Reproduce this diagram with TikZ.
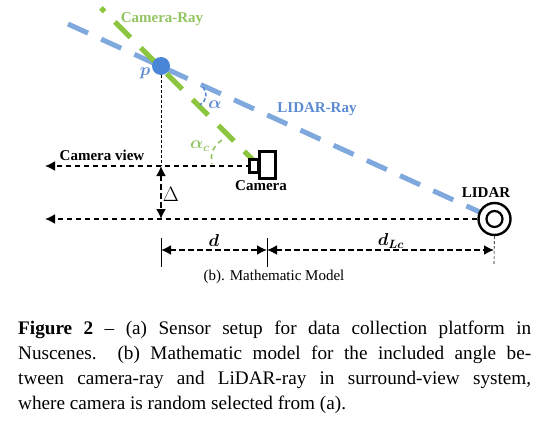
\documentclass[tikz,border=0pt]{standalone}
\usepackage{amsmath}
\usepackage{fontspec}
\setmainfont{Liberation Serif}
\usepackage{tikz}
\usetikzlibrary{calc}
\usetikzlibrary{arrows.meta}
\definecolor{rayblue}{HTML}{7FA8DC}
\definecolor{raygreen}{HTML}{8CC63F}
\definecolor{labgreen}{HTML}{93C462}
\definecolor{labblue}{HTML}{5B8BD0}
\definecolor{dotblue}{HTML}{4A86D8}
\tikzset{lidarray/.style={draw=rayblue, line width=5pt, dash pattern=on 22pt off 14.5pt}}
\tikzset{cameraray/.style={draw=raygreen, line width=5pt, dash pattern=on 22pt off 14.6pt}}
\tikzset{axisline/.style={draw, line width=1.8pt, dash pattern=on 5.5pt off 3.5pt, >={Latex[length=10pt,width=10pt]}}}
\tikzset{tick/.style={draw, line width=.6pt}}
\tikzset{lab/.style={font=\fontsize{15}{17}\selectfont\bfseries, inner sep=0pt}}

\begin{document}
\begin{tikzpicture}[x=1pt,y=-1pt]
    \useasboundingbox (0,0) rectangle (553,422);
    \foreach \x/\y/\nm in {
      68/24/lidarfar,
      101/8/camerafar,
      45/166/viewend,
      45/219/baseend,
      161/166/viewfoot,
      161/219/basefoot,
      161/250/dleft,
      267/250/dmid,
      494/250/dright,
      161/238/tickatop,
      161/267/tickabot,
      267/238/tickbtop,
      267/267/tickbbot,
      494/265/tickcbot%
    } {
      \coordinate (\nm) at (\x, \y);
    }
    % rays first, the sensors cover their ends
    \node[circle, minimum size=0pt, inner sep=0pt] (lidarc) at (495,219) {};
    \node[circle, minimum size=0pt, inner sep=0pt] (camc) at (260,167) {};
    \draw[lidarray] (lidarfar) -- (lidarc);
    \draw[cameraray] (camc) -- (camerafar);
    \node[circle, fill=dotblue, inner sep=0pt, minimum size=18pt] (p) at (161,66) {};
    \draw[line width=.7pt, densely dashed] (p) -- (viewfoot);
    \draw[axisline, ->] (251,166) -- (viewend);
    \draw[axisline, ->] (477,219) -- (baseend);
    \draw[axisline, <->] (viewfoot) -- (basefoot);
    \draw[axisline, <->] (dleft) -- (dmid);
    \draw[axisline, <->] (dmid) -- (dright);
    \draw[tick] (tickatop) -- (tickabot);
    \draw[tick] (tickbtop) -- (tickbbot);
    % sensors
    \node[circle, draw, fill=white, line width=2.4pt, inner sep=0pt, minimum size=32pt] (lidar) at (494.5,219) {};
    \node[circle, draw, line width=2.2pt, inner sep=0pt, minimum size=16pt] (lidarin) at (494.5,219) {};
    \node[draw, fill=white, line width=3pt, inner sep=0pt, minimum width=16pt, minimum height=27pt] (cambody) at (267.5,165) {};
    \node[draw, fill=white, line width=3pt, inner sep=0pt, minimum width=9pt, minimum height=13pt] (camlens) at (254,166) {};
    \draw[tick, densely dashed] (lidar) -- (tickcbot);
    % angles
    \draw[draw=labblue, line width=1.6pt, dash pattern=on 4pt off 2pt] (203,87) .. controls (208,95) and (206,101) .. (200,105);
    \draw[draw=labgreen, line width=1.6pt, dash pattern=on 5pt off 4pt] (222,140) .. controls (213,146) and (210,154) .. (212,164);
    % labels
    \foreach \x/\y/\nm/\tx in {
      102/155/viewlab/Camera view,
      261/186/camlab/Camera,
      486/193/lidarlab/LIDAR%
    } {
      \node[lab] (\nm) at (\x, \y) {\tx};
    }
    \node[lab, text=labgreen] (raygreenlab) at (162,19) {Camera-Ray};
    \node[lab, text=labblue] (raybluelab) at (317,109) {LIDAR-Ray};
    \node[lab, font=\fontsize{17}{17}\selectfont, text=labblue] (plab) at (145,73) {$\boldsymbol{p}$};
    \node[lab, font=\fontsize{17}{17}\selectfont, text=labblue] (alab) at (215,105) {$\boldsymbol{\alpha}$};
    \node[lab, font=\fontsize{17}{17}\selectfont, text=labgreen] (aclab) at (200,146) {$\boldsymbol{\alpha_c}$};
    \node[lab, font=\fontsize{20}{20}\selectfont] (deltalab) at (171,194) {$\Delta$};
    \node[lab, font=\fontsize{17}{17}\selectfont] (dlab) at (214,240) {$\boldsymbol{d}$};
    \node[lab, font=\fontsize{17}{17}\selectfont] (dlclab) at (391,241) {$\boldsymbol{d_{Lc}}$};
    \node[inner sep=0pt, font=\fontsize{15}{17}\selectfont] (modellab) at (274,277) {(b). Mathematic Model};
    \node[inner sep=0pt, anchor=north west, text width=513pt, align=justify, font=\fontsize{19.2}{24.9}\selectfont] (caption) at (18,321) {\textbf{Figure 2} -- (a) Sensor setup for data collection platform in Nuscenes.\ \ (b) Mathematic model for the included angle be-\linebreak tween camera-ray and LiDAR-ray in surround-view system,\linebreak where camera is random selected from (a).};
  \end{tikzpicture}
\end{document}
